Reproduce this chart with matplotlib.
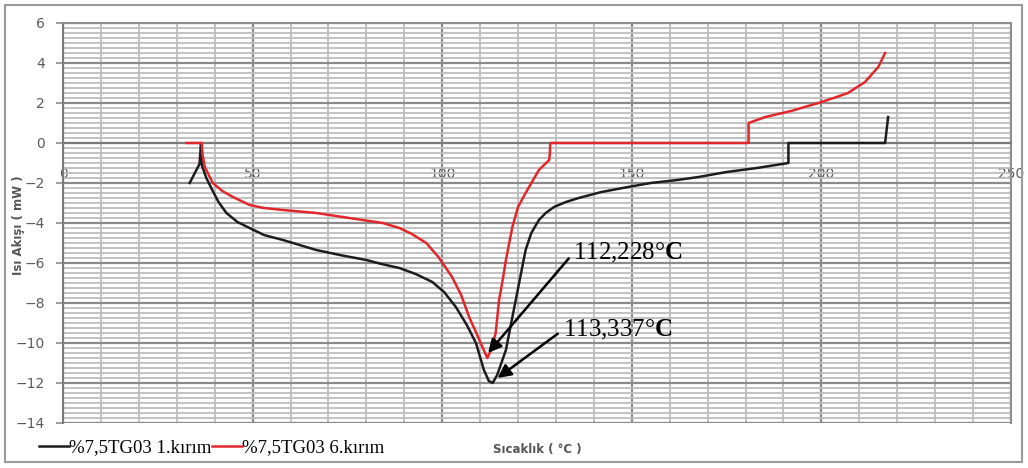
import matplotlib
matplotlib.use('Agg')
import matplotlib.pyplot as plt
import matplotlib.ticker as ticker
from matplotlib.patches import Rectangle

matplotlib.rcParams['mathtext.fontset'] = 'custom'
matplotlib.rcParams['mathtext.rm'] = 'Liberation Serif'
matplotlib.rcParams['mathtext.bf'] = 'Liberation Serif:bold'

# 1. kırım (black)
x1 = [33.4, 36.0, 36.4, 36.6, 37.8, 39.1, 41.0, 43.1, 46.0, 49.2, 53.0, 58.0, 66.8,
      73.0, 80.0, 84.0, 88.7, 93.0, 97.4, 100.5, 103.6, 106.5, 108.9, 111.0, 112.3,
      113.3, 114.5, 116.8, 118.2, 119.4, 120.7, 122.0, 123.5, 125.5, 127.3, 129.5,
      132.6, 136.0, 142.0, 149.0, 155.0, 162.0, 167.6, 175.0, 183.0, 191.3, 191.3,
      216.8, 217.6]
y1 = [-2.0, -1.05, 0.0, -1.1, -1.75, -2.25, -2.95, -3.5, -3.95, -4.25, -4.6, -4.85, -5.35,
      -5.6, -5.85, -6.05, -6.25, -6.55, -6.95, -7.45, -8.2, -9.1, -10.0, -11.35, -11.9,
      -12.0, -11.6, -10.35, -9.0, -7.85, -6.6, -5.35, -4.5, -3.85, -3.5, -3.2,
      -2.95, -2.75, -2.45, -2.2, -2.0, -1.85, -1.7, -1.45, -1.25, -1.0, 0.0,
      0.0, 1.3]

# 6. kırım (red)
x2 = [32.6, 36.6, 36.8, 37.4, 39.5, 42.0, 44.8, 49.2, 53.0, 58.0, 66.8, 75.5, 84.3,
      88.7, 92.0, 95.8, 99.0, 102.6, 105.0, 107.1, 109.0, 110.6, 111.9, 113.0,
      114.1, 115.0, 116.0, 116.8, 118.5, 120.0, 122.0, 125.5, 128.2, 128.4, 128.5,
      180.8, 180.8, 185.2, 192.0, 199.2, 204.0, 207.0, 211.5, 215.0, 216.8]
y2 = [0.0, 0.0, -0.6, -1.2, -2.0, -2.4, -2.7, -3.1, -3.25, -3.35, -3.5, -3.75, -4.0,
      -4.25, -4.55, -5.0, -5.7, -6.7, -7.6, -8.7, -9.5, -10.2, -10.75, -10.3,
      -9.5, -7.85, -6.8, -5.85, -4.2, -3.2, -2.5, -1.35, -0.85, -0.5, 0.0,
      0.0, 1.0, 1.3, 1.6, 2.0, 2.3, 2.5, 3.05, 3.8, 4.5]

labels = ['%7,5TG03 1.kırım', '%7,5TG03 6.kırım']
peaks = ['112,228°$\\mathbf{C}$', '113,337°$\\mathbf{C}$']

fig = plt.figure(figsize=(10.28, 4.68), dpi=100)
ax = fig.add_axes([63 / 1028, 1 - 423 / 468, 948 / 1028, 400 / 468])

ax.set_xlim(0, 250)
ax.set_ylim(-14, 6)
ax.xaxis.set_major_locator(ticker.MultipleLocator(50))
ax.xaxis.set_minor_locator(ticker.MultipleLocator(10))
ax.yaxis.set_major_locator(ticker.MultipleLocator(2))
ax.yaxis.set_minor_locator(ticker.MultipleLocator(0.25))

ax.grid(which='minor', color='#bdbdbd', linewidth=1.3)
ax.grid(which='major', color='#8a8a8a', linewidth=1.6)
ax.set_axisbelow(True)

for s in ax.spines.values():
    s.set_color('#8e8e8e')
    s.set_linewidth(1.5)
ax.spines['bottom'].set_position(('data', 0))
ax.spines['bottom'].set_color('#7a7a7a')
ax.spines['left'].set_color('#7a7a7a')

ax.tick_params(axis='x', which='both', length=0, pad=17, labelsize=10, labelcolor='#5a5a5a')
ax.tick_params(axis='y', which='major', length=5, width=1.2, color='#8e8e8e',
               pad=8, labelsize=10, labelcolor='#5a5a5a')
ax.tick_params(axis='y', which='minor', length=0)

l1, = ax.plot(x1, y1, color='#1c1c1c', linewidth=1.8, zorder=3)
l2, = ax.plot(x2, y2, color='#e3262b', linewidth=1.8, zorder=3)

ax.annotate(peaks[0], xy=(112.1, -10.5), xytext=(134.6, -5.5),
            fontsize=18, family='Liberation Serif', ha='left', va='center',
            arrowprops=dict(arrowstyle='-|>', color='black', lw=1.8,
                            mutation_scale=20, relpos=(0, 0.5), shrinkA=2, shrinkB=0),
            zorder=5)
ax.annotate(peaks[1], xy=(114.6, -11.75), xytext=(131.8, -9.35),
            fontsize=18, family='Liberation Serif', ha='left', va='center',
            arrowprops=dict(arrowstyle='-|>', color='black', lw=1.8,
                            mutation_scale=20, relpos=(0, 0.5), shrinkA=2, shrinkB=0),
            zorder=5)

fig.text(19 / 1028, 1 - 225 / 468, 'Isı Akışı ( mW )', rotation=90, ha='center', va='center',
         fontsize=8.5, fontweight='bold', color='#555555')
fig.text(537 / 1028, 1 - 450 / 468, 'Sıcaklık ( °C )', ha='center', va='center',
         fontsize=8.5, fontweight='bold', color='#555555')

fig.legend([l1, l2], labels, loc='center left', bbox_to_anchor=(30 / 1028, 1 - 448 / 468),
           ncol=2, frameon=False, handlelength=1.6, handletextpad=0.0, columnspacing=0.0,
           borderpad=0, prop={'family': 'Liberation Serif', 'size': 13.5})

fig.patches.append(Rectangle((5 / 1028, 6 / 468), 1017 / 1028, 457 / 468,
                             transform=fig.transFigure, fill=False,
                             edgecolor='#9a9a9a', linewidth=1.5))

fig.savefig('out.png', dpi=100)
